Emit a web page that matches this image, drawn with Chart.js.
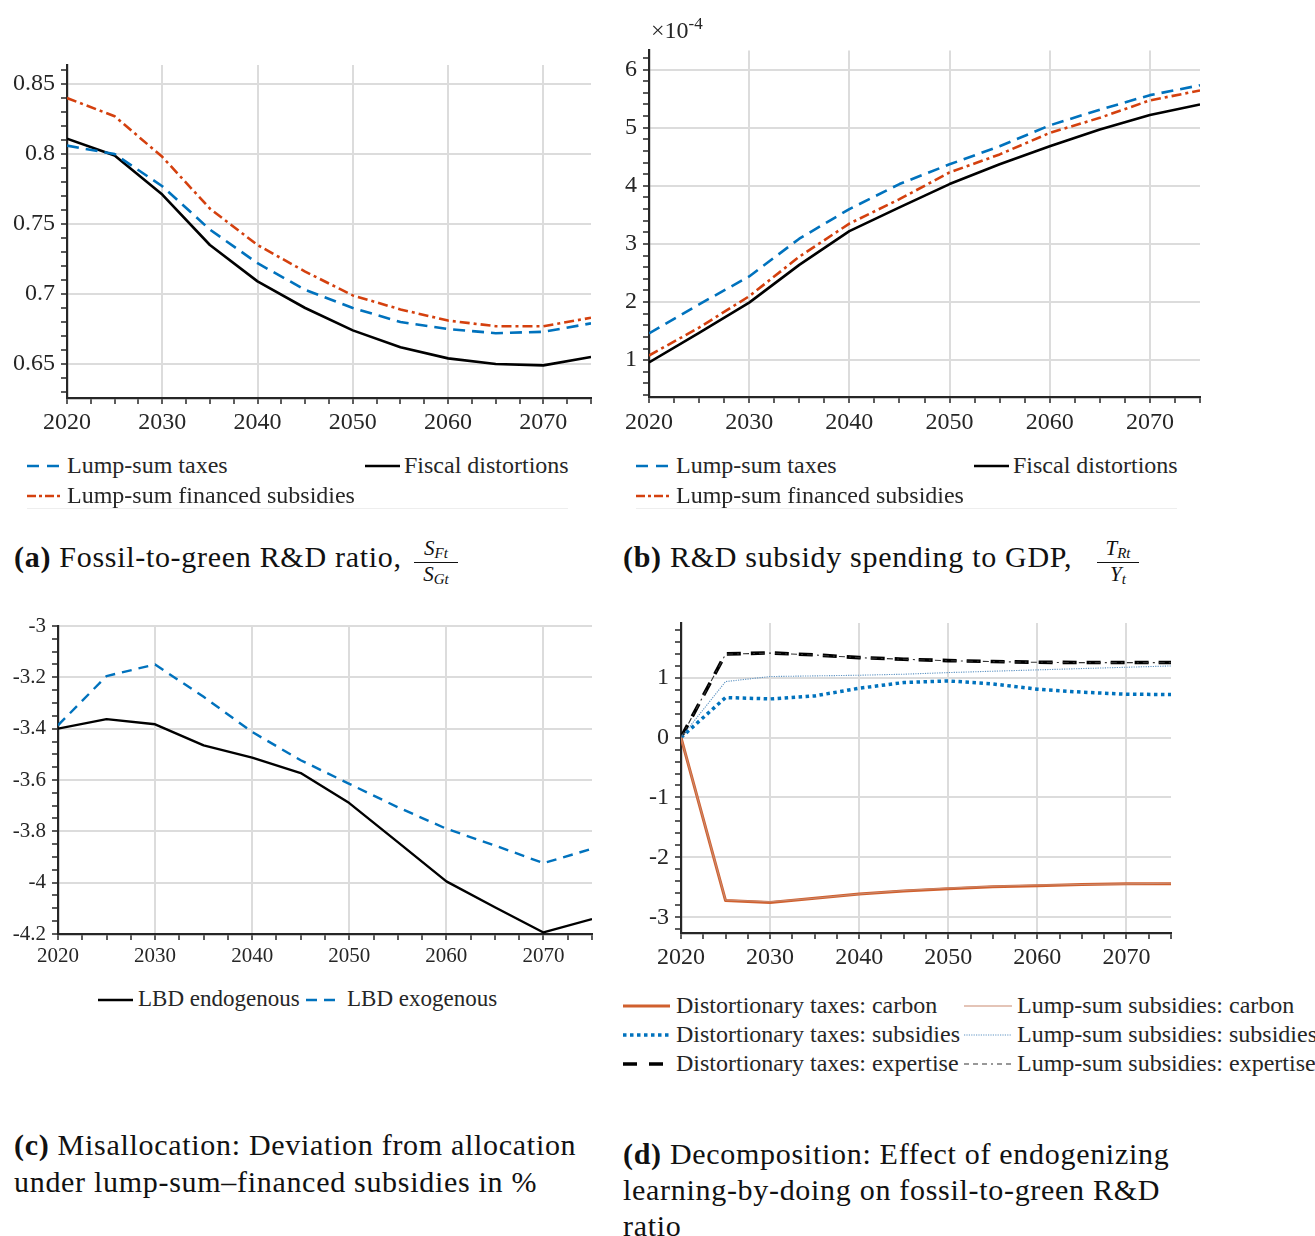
<!DOCTYPE html>
<html><head><meta charset="utf-8">
<script src="https://cdn.jsdelivr.net/npm/chart.js@4.4.1/dist/chart.umd.min.js"></script>
<style>
body{margin:0;background:#fff;width:1315px;height:1236px;overflow:hidden;position:relative;font-family:"Liberation Serif","Times New Roman",serif;color:#262626}
canvas{position:absolute}
.lt{position:absolute;white-space:nowrap;line-height:1;font-size:24px;color:#262626}
.cap{position:absolute;white-space:nowrap;line-height:1;font-size:30px;letter-spacing:0.7px;color:#111}
.frac{position:absolute;font-style:italic;font-size:21px;text-align:center;line-height:1;color:#111}
.frac sub{font-size:15px;vertical-align:-3px}
.frac .bar{border-top:1.3px solid #111;margin:1px 0}
svg{position:absolute;overflow:visible}
</style></head><body>
<canvas id="cA" width="600" height="400" style="left:0;top:40px"></canvas>
<canvas id="cB" width="615" height="410" style="left:600px;top:30px"></canvas>
<canvas id="cC" width="600" height="370" style="left:0;top:600px"></canvas>
<canvas id="cD" width="580" height="370" style="left:610px;top:600px"></canvas>

<div class="lt" style="left:651px;top:18px;font-size:24px">×10<span style="font-size:17px;position:relative;top:-9px">-4</span></div>

<div class="cap" style="left:14px;top:542px"><b>(a)</b> Fossil-to-green R&amp;D ratio,</div>
<div class="frac" style="left:414px;top:538px;width:44px">S<sub>Ft</sub><div class="bar"></div>S<sub>Gt</sub></div>
<div class="cap" style="left:623px;top:542px"><b>(b)</b> R&amp;D subsidy spending to GDP,</div>
<div class="frac" style="left:1097px;top:538px;width:42px">T<sub>Rt</sub><div class="bar"></div>Y<sub>t</sub></div>
<div class="cap" style="left:14px;top:1130px"><b>(c)</b> Misallocation: Deviation from allocation</div>
<div class="cap" style="left:14px;top:1167px">under lump-sum–financed subsidies in %</div>
<div class="cap" style="left:623px;top:1139px"><b>(d)</b> Decomposition: Effect of endogenizing</div>
<div class="cap" style="left:623px;top:1175px">learning-by-doing on fossil-to-green R&amp;D</div>
<div class="cap" style="left:623px;top:1211px">ratio</div>

<div id="legends"></div>

<script>
// ---------------- DATA ----------------
const years = [2020, 2025, 2030, 2035, 2040, 2045, 2050, 2055, 2060, 2065, 2070, 2075];

// (a) Fossil-to-green R&D ratio
const ratioLumpSumTaxes      = [0.806, 0.800, 0.777, 0.746, 0.722, 0.703, 0.690, 0.680, 0.675, 0.672, 0.673, 0.679];
const ratioFiscalDistortions = [0.811, 0.799, 0.771, 0.735, 0.709, 0.690, 0.674, 0.662, 0.654, 0.650, 0.649, 0.655];
const ratioLumpSumSubsidies  = [0.840, 0.827, 0.798, 0.761, 0.735, 0.716, 0.699, 0.689, 0.681, 0.677, 0.677, 0.683];

// (b) R&D subsidy spending to GDP, in units of 1e-4
const spendLumpSumTaxes      = [1.46, 1.96, 2.44, 3.09, 3.60, 4.03, 4.37, 4.68, 5.04, 5.31, 5.56, 5.73];
const spendFiscalDistortions = [0.96, 1.47, 1.99, 2.64, 3.22, 3.63, 4.03, 4.37, 4.68, 4.97, 5.22, 5.40];
const spendLumpSumSubsidies  = [1.08, 1.56, 2.10, 2.78, 3.35, 3.77, 4.23, 4.54, 4.91, 5.17, 5.47, 5.64];

// (c) Misallocation, %
const misLbdEndogenous = [-3.400, -3.363, -3.383, -3.465, -3.513, -3.573, -3.690, -3.842, -3.995, -4.096, -4.194, -4.142];
const misLbdExogenous  = [-3.387, -3.195, -3.150, -3.276, -3.413, -3.523, -3.615, -3.706, -3.790, -3.855, -3.924, -3.868];

// (d) Decomposition
const decDistCarbon     = [0, -2.72, -2.75, -2.68, -2.61, -2.56, -2.52, -2.49, -2.47, -2.45, -2.44, -2.44];
const decLumpCarbon     = [0, -2.71, -2.74, -2.68, -2.61, -2.55, -2.51, -2.48, -2.46, -2.45, -2.44, -2.43];
const decDistSubsidies  = [0, 0.667, 0.644, 0.694, 0.822, 0.917, 0.944, 0.894, 0.806, 0.756, 0.722, 0.717];
const decLumpSubsidies  = [0, 0.933, 1.017, 1.028, 1.039, 1.056, 1.083, 1.106, 1.128, 1.150, 1.172, 1.194];
const decDistExpertise  = [0, 1.394, 1.411, 1.378, 1.333, 1.306, 1.283, 1.267, 1.256, 1.250, 1.250, 1.250];
const decLumpExpertise  = [0, 1.390, 1.408, 1.376, 1.332, 1.305, 1.282, 1.266, 1.255, 1.249, 1.249, 1.249];

// ticks
const xMajorTicks = [2020, 2030, 2040, 2050, 2060, 2070];
const xTickLabels = ['2020', '2030', '2040', '2050', '2060', '2070'];
const aYTicks  = [0.65, 0.7, 0.75, 0.8, 0.85];
const aYLabels = ['0.65', '0.7', '0.75', '0.8', '0.85'];
const bYTicks  = [1, 2, 3, 4, 5, 6];
const bYLabels = ['1', '2', '3', '4', '5', '6'];
const cYTicks  = [-4.2, -4, -3.8, -3.6, -3.4, -3.2, -3];
const cYLabels = ['-4.2', '-4', '-3.8', '-3.6', '-3.4', '-3.2', '-3'];
const dYTicks  = [-3, -2, -1, 0, 1];
const dYLabels = ['-3', '-2', '-1', '0', '1'];

// ---------------- STYLE ----------------
const AX = '#262626', GRID = '#dcdcdc';
const BLUE = '#0072BD', RED = '#D4400E', ORANGE = '#D0602E';
const FAMILY = "'Liberation Serif', 'Times New Roman', serif";

function stepList(a, b, s) { const o = []; const n = Math.round((b - a) / s); for (let i = 0; i <= n; i++) o.push(+(a + i * s).toFixed(4)); return o; }
const near = (list, v) => list.findIndex(m => Math.abs(m - v) < 1e-6);
const pts = ys => years.map((x, i) => ({x, y: ys[i]}));
function ds(data, color, width, dash) {
  return {data: pts(data), borderColor: color, borderWidth: width, borderDash: dash || [],
    pointRadius: 0, fill: false, tension: 0, borderJoinStyle: 'round'};
}

function panel(id, o) {
  const xMinor = stepList(2020, 2075, 2.5);
  const yMinor = stepList(o.yMinorFrom, o.yMinorTo, o.yMinorStep);
  const font = {family: FAMILY, size: o.fs};
  new Chart(document.getElementById(id), {
    type: 'line',
    data: {datasets: o.datasets},
    options: {
      responsive: false, animation: false, events: [],
      layout: {padding: {top: o.padTop, right: o.padRight, left: 0, bottom: 0}},
      plugins: {legend: {display: false}, tooltip: {enabled: false}},
      scales: {
        x: {
          type: 'linear', min: 2020, max: 2075,
          afterFit: s => { s.height = o.xH; },
          afterBuildTicks: s => { s.ticks = xMinor.map(v => ({value: v})); },
          ticks: {autoSkip: false, maxRotation: 0, minRotation: 0, padding: o.xPad, color: AX, font,
            callback: v => { const i = xMajorTicks.indexOf(v); return i >= 0 ? xTickLabels[i] : ''; }},
          grid: {color: c => (c.tick && near(xMajorTicks, c.tick.value) >= 0) ? GRID : 'rgba(0,0,0,0)',
            lineWidth: 2, tickLength: 6, tickColor: AX, tickWidth: 1.5},
          border: {color: AX, width: 2.2}
        },
        y: {
          type: 'linear', min: o.yMin, max: o.yMax,
          afterFit: s => { s.width = o.yW; },
          afterBuildTicks: s => { s.ticks = yMinor.map(v => ({value: v})); },
          ticks: {autoSkip: false, padding: 6, color: AX, font,
            callback: v => { const i = near(o.yTicks, v); return i >= 0 ? o.yLabels[i] : ''; }},
          grid: {color: c => (c.tick && near(o.yTicks, c.tick.value) >= 0) ? GRID : 'rgba(0,0,0,0)',
            lineWidth: 2, tickLength: 6, tickColor: AX, tickWidth: 1.5},
          border: {color: AX, width: 2.2}
        }
      }
    }
  });
}

panel('cA', {fs: 24, padTop: 25, padRight: 9, xH: 42, yW: 67, xPad: 4,
  yMin: 0.6257, yMax: 0.8636, yMinorFrom: 0.63, yMinorTo: 0.86, yMinorStep: 0.01, yTicks: aYTicks, yLabels: aYLabels,
  datasets: [
    ds(ratioLumpSumTaxes, BLUE, 2.6, [12, 7]),
    ds(ratioLumpSumSubsidies, RED, 2.6, [10, 4, 3, 4]),
    ds(ratioFiscalDistortions, '#000', 2.6)
  ]});

panel('cB', {fs: 24, padTop: 17, padRight: 15, xH: 43, yW: 49, xPad: 5,
  yMin: 0.366, yMax: 6.33, yMinorFrom: 0.4, yMinorTo: 6.2, yMinorStep: 0.2, yTicks: bYTicks, yLabels: bYLabels,
  datasets: [
    ds(spendLumpSumTaxes, BLUE, 2.6, [12, 7]),
    ds(spendLumpSumSubsidies, RED, 2.6, [10, 4, 3, 4]),
    ds(spendFiscalDistortions, '#000', 2.6)
  ]});

panel('cC', {fs: 21, padTop: 26, padRight: 8, xH: 36, yW: 58, xPad: 4,
  yMin: -4.2, yMax: -3, yMinorFrom: -4.2, yMinorTo: -3, yMinorStep: 0.05, yTicks: cYTicks, yLabels: cYLabels,
  datasets: [
    ds(misLbdExogenous, BLUE, 2.4, [10, 7]),
    ds(misLbdEndogenous, '#000', 2.4)
  ]});

panel('cD', {fs: 24, padTop: 23, padRight: 19, xH: 37, yW: 71, xPad: 4,
  yMin: -3.26, yMax: 1.91, yMinorFrom: -3.2, yMinorTo: 1.8, yMinorStep: 0.2, yTicks: dYTicks, yLabels: dYLabels,
  datasets: [
    ds(decLumpCarbon, '#C98A70', 1.1),
    ds(decLumpSubsidies, '#5E93C2', 1.1, [1.2, 1.2]),
    ds(decLumpExpertise, '#333', 1.1, [6, 4, 2, 4]),
    ds(decDistCarbon, ORANGE, 3),
    ds(decDistSubsidies, BLUE, 3.5, [3.5, 3.5]),
    ds(decDistExpertise, '#000', 3.6, [14, 10])
  ]});

// ---------------- LEGENDS (HTML) ----------------
const legendHost = document.getElementById('legends');
function legendItem(x0, x1, y, textX, label, color, width, dash, fs) {
  const svg = document.createElementNS('http://www.w3.org/2000/svg', 'svg');
  svg.setAttribute('width', 1); svg.setAttribute('height', 1);
  svg.style.left = '0px'; svg.style.top = '0px';
  const ln = document.createElementNS('http://www.w3.org/2000/svg', 'line');
  ln.setAttribute('x1', x0); ln.setAttribute('x2', x1); ln.setAttribute('y1', y); ln.setAttribute('y2', y);
  ln.setAttribute('stroke', color); ln.setAttribute('stroke-width', width);
  if (dash) ln.setAttribute('stroke-dasharray', dash.join(' '));
  svg.appendChild(ln); legendHost.appendChild(svg);
  const d = document.createElement('div'); d.className = 'lt';
  d.style.fontSize = fs + 'px';
  d.style.left = textX + 'px'; d.style.top = (y - 0.56 * fs) + 'px';
  d.textContent = label; legendHost.appendChild(d);
}
function sep(x0, x1, y) {
  const d = document.createElement('div');
  d.style.cssText = `position:absolute;left:${x0}px;top:${y}px;width:${x1 - x0}px;height:1px;background:#eeeeee`;
  legendHost.appendChild(d);
}
[0, 609].forEach(dx => {
  legendItem(27 + dx, 62 + dx, 466, 67 + dx, 'Lump-sum taxes', BLUE, 2.6, [12, 8], 24);
  legendItem(365 + dx, 400 + dx, 466, 404 + dx, 'Fiscal distortions', '#000', 2.6, null, 24);
  legendItem(27 + dx, 62 + dx, 496, 67 + dx, 'Lump-sum financed subsidies', RED, 2.6, [9, 3, 3, 3], 24);
  sep(27 + dx, 568 + dx, 508);
});
legendItem(98, 133, 1000, 138, 'LBD endogenous', '#000', 2.4, null, 23);
legendItem(306, 342, 1000, 347, 'LBD exogenous', BLUE, 2.4, [11, 7], 23);

legendItem(623, 670, 1006, 676, 'Distortionary taxes: carbon', ORANGE, 3, null, 24);
legendItem(623, 670, 1035, 676, 'Distortionary taxes: subsidies', BLUE, 3.5, [3.5, 3.5], 24);
legendItem(623, 670, 1064, 676, 'Distortionary taxes: expertise', '#000', 3.6, [14, 12], 24);
legendItem(964, 1012, 1006, 1017, 'Lump-sum subsidies: carbon', '#C98A70', 1.2, null, 24);
legendItem(964, 1012, 1035, 1017, 'Lump-sum subsidies: subsidies', '#5E93C2', 1.1, [1.2, 1.2], 24);
legendItem(964, 1012, 1064, 1017, 'Lump-sum subsidies: expertise', '#333', 1.1, [5, 4, 5, 4, 5, 4, 2, 4], 24);
</script>
</body></html>
